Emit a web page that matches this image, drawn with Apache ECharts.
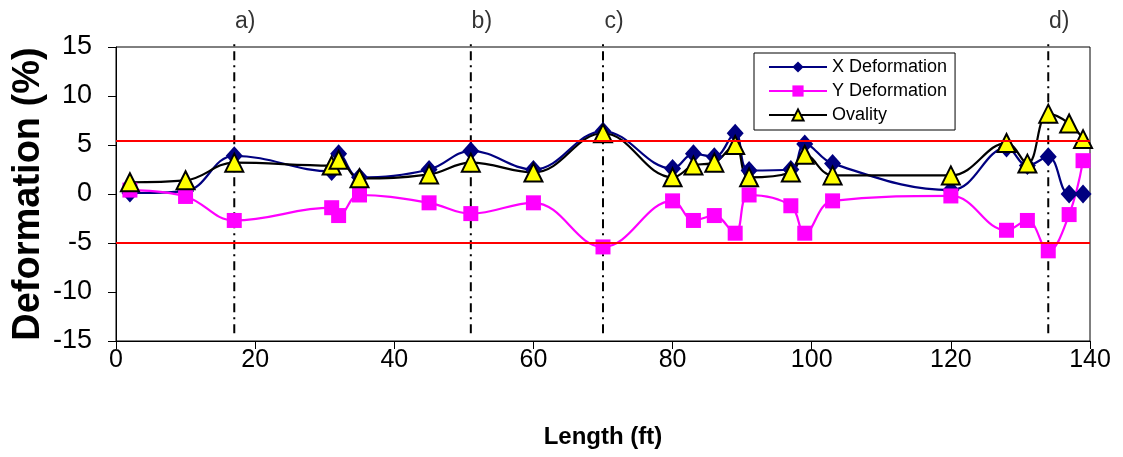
<!DOCTYPE html>
<html>
<head>
<meta charset="utf-8">
<script src="https://cdn.jsdelivr.net/npm/echarts@6/dist/echarts.min.js"></script>
<style>
  html, body { margin: 0; padding: 0; background: #fff; }
  #chart { width: 1123px; height: 457px; }
</style>
</head>
<body>
<div id="chart"></div>
<script>
// length along pipe (ft)
var lengths = [2, 10, 17, 31, 32, 35, 45, 51, 60, 70, 80, 83, 86, 89, 91, 97, 99, 103, 120, 128, 131, 134, 137, 139]
var xDeform = [0.1, 0.3, 3.9, 2.3, 4.1, 1.7, 2.5, 4.4, 2.5, 6.4, 2.6, 4.1, 3.8, 6.2, 2.4, 2.5, 5.1, 3.1, 0.4, 4.7, 2.9, 3.8, 0, 0]
var yDeform = [0.4, -0.25, -2.7, -1.4, -2.2, -0.1, -0.9, -2.0, -0.9, -5.4, -0.7, -2.7, -2.2, -4.0, -0.1, -1.2, -4.0, -0.7, -0.2, -3.7, -2.7, -5.8, -2.1, 3.4]
var ovality = [1.2, 1.4, 3.2, 2.9, 3.5, 1.6, 2.0, 3.2, 2.2, 6.2, 1.7, 2.9, 3.2, 5.0, 1.7, 2.2, 4.0, 1.9, 1.9, 5.2, 3.1, 8.2, 7.2, 5.6]

// limit lines (%)
var limits = [5.4, -5]
// marked sections
var sectionPos = [17, 51, 70, 134]
var sectionNames = ['a)', 'b)', 'c)', 'd)']

var font = 'Liberation Sans, Arial, sans-serif'

function pairs(vals) {
  return lengths.map(function (l, i) { return [l, vals[i]] })
}

var series = [
  {
    name: 'X Deformation',
    type: 'line',
    smooth: 0.4,
    data: pairs(xDeform),
    symbol: 'diamond',
    symbolSize: [17, 19],
    color: '#000080',
    lineStyle: { width: 2.2, color: '#000080' },
    itemStyle: { color: '#000080' },
    markLine: {
      silent: true,
      symbol: 'none',
      label: { show: false },
      lineStyle: { color: '#ff0000', width: 2, type: 'solid' },
      data: limits.map(function (v) { return { yAxis: v } })
    }
  },
  {
    name: 'Y Deformation',
    type: 'line',
    smooth: 0.4,
    data: pairs(yDeform),
    symbol: 'rect',
    symbolSize: 15,
    color: '#ff00ff',
    lineStyle: { width: 2.2, color: '#ff00ff' },
    itemStyle: { color: '#ff00ff' }
  },
  {
    name: 'Ovality',
    type: 'line',
    smooth: 0.4,
    data: pairs(ovality),
    symbol: 'triangle',
    symbolSize: 18,
    color: '#000',
    lineStyle: { width: 2.2, color: '#000' },
    itemStyle: { color: '#ffff00', borderColor: '#000', borderWidth: 2 }
  }
]

// dash-dot section lines
sectionPos.forEach(function (p) {
  series.push({
    type: 'line',
    silent: true,
    clip: false,
    symbol: 'none',
    lineStyle: { color: '#000', width: 2, type: [9, 5, 2, 5] },
    data: [[p, -14.2], [p, 15.7]],
    z: 1
  })
})
// section labels
series.push({
  type: 'scatter',
  silent: true,
  clip: false,
  symbolSize: 1,
  itemStyle: { color: 'rgba(0,0,0,0)' },
  data: sectionPos.map(function (p) { return [p, 15.7] }),
  label: {
    show: true,
    position: 'top',
    distance: 6,
    offset: [11, 0],
    fontSize: 23,
    color: '#000',
    fontFamily: font,
    formatter: function (d) { return sectionNames[d.dataIndex] }
  }
})

var myCharts = echarts.init(document.getElementById('chart'))
var options = {
  animation: false,
  textStyle: { fontFamily: font },
  grid: {
    left: 116, right: 33, top: 47, bottom: 116,
    containLabel: false,
    outerBoundsMode: 'none',
    show: true, borderColor: '#000', borderWidth: 1
  },
  legend: {
    data: ['X Deformation', 'Y Deformation', 'Ovality'],
    orient: 'vertical',
    left: 754, top: 53,
    itemWidth: 58, itemHeight: 14, itemGap: 6,
    padding: [5, 8, 6, 14],
    borderColor: '#000', borderWidth: 1,
    backgroundColor: '#fff',
    textStyle: { fontSize: 18, color: '#000', fontFamily: font }
  },
  xAxis: {
    type: 'value',
    min: 0, max: 140, interval: 20,
    name: 'Length (ft)',
    nameLocation: 'middle',
    nameGap: 84,
    nameMoveOverlap: false,
    nameTextStyle: { fontSize: 24, fontWeight: 'bold', color: '#000', fontFamily: font },
    axisLine: { show: true, onZero: false, lineStyle: { color: '#000', width: 1 } },
    axisTick: { show: true, inside: false, length: 8, lineStyle: { color: '#000' } },
    axisLabel: { fontSize: 25, color: '#000', margin: 7, fontFamily: font },
    splitLine: { show: false }
  },
  yAxis: {
    type: 'value',
    min: -15, max: 15, interval: 5,
    name: 'Deformation (%)',
    nameLocation: 'middle',
    nameGap: 68,
    nameMoveOverlap: false,
    nameTextStyle: { fontSize: 38, fontWeight: 'bold', color: '#000', fontFamily: font },
    axisLine: { show: true, onZero: false, lineStyle: { color: '#000', width: 1 } },
    axisTick: { show: true, inside: false, length: 8, lineStyle: { color: '#000' } },
    axisLabel: { fontSize: 27, color: '#000', margin: 24, fontFamily: font },
    splitLine: { show: false }
  },
  series: series
}
myCharts.setOption(options)
</script>
</body>
</html>
